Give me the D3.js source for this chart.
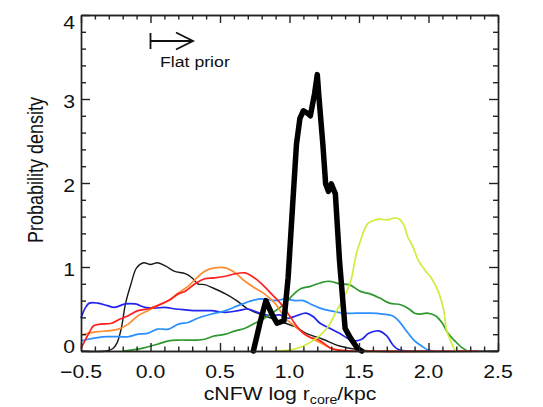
<!DOCTYPE html>
<html>
<head>
<meta charset="utf-8">
<script src="https://cdn.jsdelivr.net/npm/d3@7/dist/d3.min.js"></script>
<style>
  html, body { margin: 0; padding: 0; background: #fff; }
  svg { display: block; }
  text { font-family: "Liberation Sans", Arial, Helvetica, sans-serif; fill: #111; }
</style>
</head>
<body>
<svg id="chart" width="543" height="407"></svg>
<script>
// Posterior densities of log r_core for the cNFW fits, one [x, density] list per run.
const runThinBlack = [[-0.5,0],[-0.32,0],[-0.27,0.03],[-0.24,0.1],[-0.21,0.27],[-0.18,0.56],[-0.14,0.8],[-0.10,0.99],[-0.05,1.05],[0.0,1.03],[0.05,1.05],[0.11,1.01],[0.17,0.95],[0.25,0.92],[0.30,0.87],[0.34,0.8],[0.39,0.79],[0.45,0.75],[0.54,0.68],[0.62,0.6],[0.70,0.5],[0.77,0.45],[0.87,0.39],[0.97,0.33],[1.04,0.29],[1.12,0.21],[1.24,0.14],[1.36,0.06],[1.48,0.02],[1.6,0],[2.5,0]];
const runOrange = [[-0.5,0.19],[-0.45,0.21],[-0.38,0.23],[-0.31,0.24],[-0.23,0.26],[-0.16,0.32],[-0.09,0.42],[-0.02,0.48],[0.05,0.54],[0.13,0.6],[0.2,0.69],[0.27,0.77],[0.32,0.85],[0.39,0.95],[0.46,0.99],[0.54,0.99],[0.61,0.93],[0.68,0.83],[0.75,0.75],[0.82,0.68],[0.9,0.56],[0.97,0.39],[1.02,0.32],[1.08,0.24],[1.15,0.16],[1.22,0.1],[1.29,0.04],[1.36,0.01],[1.45,0],[2.3,0]];
const runRed = [[-0.5,0.03],[-0.47,0.13],[-0.44,0.22],[-0.41,0.3],[-0.36,0.32],[-0.28,0.33],[-0.22,0.38],[-0.16,0.42],[-0.09,0.48],[-0.02,0.5],[0.05,0.54],[0.13,0.6],[0.2,0.68],[0.25,0.71],[0.32,0.8],[0.39,0.86],[0.46,0.87],[0.54,0.89],[0.61,0.92],[0.68,0.93],[0.73,0.89],[0.80,0.8],[0.87,0.68],[0.95,0.54],[1.0,0.42],[1.05,0.3],[1.1,0.21],[1.15,0.16],[1.2,0.14],[1.24,0.1],[1.29,0.04],[1.35,0.01],[1.45,0],[2.35,0]];
const runBlue = [[-0.5,0.39],[-0.47,0.51],[-0.44,0.57],[-0.38,0.57],[-0.31,0.54],[-0.26,0.52],[-0.18,0.56],[-0.11,0.56],[-0.04,0.52],[0.03,0.51],[0.10,0.52],[0.18,0.5],[0.25,0.49],[0.34,0.48],[0.44,0.48],[0.54,0.46],[0.63,0.48],[0.7,0.5],[0.77,0.46],[0.87,0.42],[0.93,0.43],[0.99,0.39],[1.05,0.42],[1.12,0.45],[1.17,0.41],[1.22,0.33],[1.29,0.27],[1.36,0.21],[1.42,0.15],[1.47,0.12],[1.52,0.14],[1.57,0.21],[1.64,0.24],[1.70,0.18],[1.74,0.08],[1.78,0.02],[1.85,0],[2.0,0]];
const runLightBlue = [[-0.5,0.12],[-0.45,0.14],[-0.38,0.16],[-0.31,0.17],[-0.23,0.17],[-0.16,0.17],[-0.09,0.2],[-0.02,0.21],[0.05,0.26],[0.13,0.26],[0.2,0.32],[0.27,0.34],[0.34,0.39],[0.44,0.44],[0.54,0.48],[0.63,0.54],[0.73,0.6],[0.8,0.62],[0.9,0.6],[0.97,0.62],[1.04,0.6],[1.1,0.6],[1.15,0.56],[1.22,0.51],[1.29,0.48],[1.39,0.45],[1.48,0.45],[1.58,0.45],[1.67,0.44],[1.74,0.42],[1.79,0.35],[1.84,0.24],[1.9,0.12],[1.95,0.06],[2.0,0.01],[2.05,0]];
const runGreen = [[-0.2,0],[-0.1,0.02],[-0.04,0.04],[0.05,0.08],[0.13,0.12],[0.2,0.13],[0.27,0.13],[0.32,0.13],[0.39,0.14],[0.46,0.18],[0.54,0.2],[0.61,0.24],[0.68,0.27],[0.75,0.33],[0.82,0.39],[0.9,0.48],[0.97,0.57],[1.02,0.66],[1.08,0.74],[1.15,0.77],[1.22,0.81],[1.29,0.83],[1.36,0.8],[1.43,0.79],[1.51,0.71],[1.58,0.68],[1.65,0.63],[1.72,0.57],[1.8,0.55],[1.86,0.5],[1.9,0.45],[1.94,0.44],[1.99,0.45],[2.05,0.42],[2.1,0.33],[2.14,0.21],[2.19,0.12],[2.24,0.04],[2.28,0]];
const runLime = [[0.9,0],[1.0,0.01],[1.1,0.06],[1.2,0.16],[1.27,0.27],[1.34,0.48],[1.39,0.63],[1.44,0.83],[1.48,1.15],[1.51,1.31],[1.56,1.51],[1.60,1.55],[1.65,1.57],[1.70,1.56],[1.75,1.58],[1.78,1.58],[1.82,1.51],[1.85,1.36],[1.88,1.27],[1.93,1.07],[1.98,0.95],[2.02,0.87],[2.07,0.71],[2.11,0.48],[2.13,0.24],[2.16,0.12],[2.18,0.04],[2.2,0]];
const runCombined = [[0.74,0],[0.79,0.35],[0.83,0.6],[0.87,0.45],[0.91,0.33],[0.96,0.36],[0.99,0.87],[1.02,1.67],[1.05,2.46],[1.075,2.77],[1.10,2.86],[1.13,2.83],[1.15,2.8],[1.18,3.06],[1.20,3.29],[1.21,3.06],[1.24,2.46],[1.26,1.99],[1.28,1.9],[1.30,1.99],[1.33,1.87],[1.36,1.07],[1.40,0.27],[1.44,0.15],[1.49,0.03],[1.52,0]];

// Tick values and labels
const xMajorTicks = [-0.5, 0.0, 0.5, 1.0, 1.5, 2.0, 2.5];
const xTickLabels = ["\u22120.5", "0.0", "0.5", "1.0", "1.5", "2.0", "2.5"];
const yMajorTicks = [0, 1, 2, 3, 4];
const yTickLabels = ["0", "1", "2", "3", "4"];

const svg = d3.select("#chart");
const plotLeft = 81, plotRight = 498, plotTop = 15, plotBottom = 351;
const stretch = 1.18; // horizontal glyph stretch of the lettering

const x = d3.scaleLinear().domain([-0.5, 2.5]).range([plotLeft, plotRight]);
const y = d3.scaleLinear().domain([0, 4]).range([plotBottom, plotTop]);

const xMinor = d3.range(-5, 26).map(d => d / 10).filter(v => !xMajorTicks.some(m => Math.abs(m - v) < 1e-9));
const yMinor = d3.range(0, 21).map(d => d / 5).filter(v => !yMajorTicks.some(m => Math.abs(m - v) < 1e-9));

// Curves
const thin = d3.line().x(d => x(d[0])).y(d => y(d[1])).curve(d3.curveCatmullRom.alpha(0.5));
const thick = d3.line().x(d => x(d[0])).y(d => y(d[1]));

const series = [
  { data: runThinBlack, color: "#1a1a1a", width: 1.4 },
  { data: runBlue, color: "#2323f0", width: 1.7 },
  { data: runLightBlue, color: "#2b8fff", width: 1.7 },
  { data: runGreen, color: "#2f992f", width: 1.7 },
  { data: runOrange, color: "#ff8c2e", width: 1.7 },
  { data: runRed, color: "#ff1f1f", width: 1.7 },
  { data: runLime, color: "#cdee3c", width: 1.7 }
];

const plot = svg.append("g");
series.forEach(s => {
  plot.append("path").datum(s.data)
    .attr("d", thin).attr("fill", "none")
    .attr("stroke", s.color).attr("stroke-width", s.width)
    .attr("stroke-linejoin", "round");
});
plot.append("path").datum(runCombined)
  .attr("d", thick).attr("fill", "none")
  .attr("stroke", "#000").attr("stroke-width", 5.5)
  .attr("stroke-linejoin", "round").attr("stroke-linecap", "round");

// Frame with inward ticks on all four sides
function styleAxis(g) {
  g.selectAll("path, line").attr("stroke", "#222").attr("stroke-width", 1.4);
  g.selectAll("text").remove();
}
const axes = svg.append("g");
axes.append("g").attr("transform", `translate(0,${plotBottom})`)
  .call(d3.axisBottom(x).tickValues(xMajorTicks).tickSize(-8).tickSizeOuter(0)).call(styleAxis);
axes.append("g").attr("transform", `translate(0,${plotBottom})`)
  .call(d3.axisBottom(x).tickValues(xMinor).tickSize(-4.5).tickSizeOuter(0)).call(styleAxis);
axes.append("g").attr("transform", `translate(0,${plotTop})`)
  .call(d3.axisTop(x).tickValues(xMajorTicks).tickSize(-8).tickSizeOuter(0)).call(styleAxis);
axes.append("g").attr("transform", `translate(0,${plotTop})`)
  .call(d3.axisTop(x).tickValues(xMinor).tickSize(-4.5).tickSizeOuter(0)).call(styleAxis);
axes.append("g").attr("transform", `translate(${plotLeft},0)`)
  .call(d3.axisLeft(y).tickValues(yMajorTicks).tickSize(-9).tickSizeOuter(0)).call(styleAxis);
axes.append("g").attr("transform", `translate(${plotLeft},0)`)
  .call(d3.axisLeft(y).tickValues(yMinor).tickSize(-5).tickSizeOuter(0)).call(styleAxis);
axes.append("g").attr("transform", `translate(${plotRight},0)`)
  .call(d3.axisRight(y).tickValues(yMajorTicks).tickSize(-9).tickSizeOuter(0)).call(styleAxis);
axes.append("g").attr("transform", `translate(${plotRight},0)`)
  .call(d3.axisRight(y).tickValues(yMinor).tickSize(-5).tickSizeOuter(0)).call(styleAxis);

// Tick labels
xMajorTicks.forEach((v, i) => {
  svg.append("text")
    .attr("transform", `translate(${x(v)},378) scale(${stretch},1)`)
    .attr("text-anchor", "middle").attr("font-size", 18)
    .text(xTickLabels[i]);
});
yMajorTicks.forEach((v, i) => {
  const base = Math.max(29, Math.min(353, y(v) + 8.5));
  svg.append("text")
    .attr("transform", `translate(75,${base}) scale(${stretch},1)`)
    .attr("text-anchor", "end").attr("font-size", 18)
    .text(yTickLabels[i]);
});

// Axis titles
const xt = svg.append("text")
  .attr("transform", `translate(290,400) scale(${stretch},1)`)
  .attr("text-anchor", "middle").attr("font-size", 18);
xt.append("tspan").text("cNFW log r");
xt.append("tspan").attr("font-size", 12).attr("dy", 3.5).text("core");
xt.append("tspan").attr("dy", -3.5).text("/kpc");

svg.append("text")
  .attr("transform", `translate(43,170) scale(${stretch},1) rotate(-90)`)
  .attr("text-anchor", "middle").attr("font-size", 18)
  .text("Probability density");

// Flat prior marker
const prior = svg.append("g").attr("stroke", "#111").attr("stroke-width", 1.8).attr("fill", "none");
prior.append("line").attr("x1", x(0)).attr("x2", 193).attr("y1", 41).attr("y2", 41);
prior.append("line").attr("x1", x(0)).attr("x2", x(0)).attr("y1", 33).attr("y2", 49);
prior.append("polyline").attr("points", "176,32.5 193,41 176,49.5");
svg.append("text")
  .attr("transform", `translate(160,67) scale(${stretch},1)`)
  .attr("font-size", 15).text("Flat prior");
</script>
</body>
</html>
